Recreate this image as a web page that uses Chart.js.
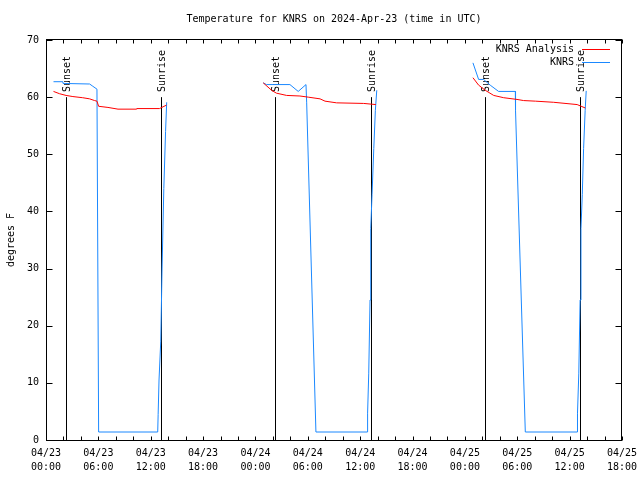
<!DOCTYPE html>
<html>
<head>
<meta charset="utf-8">
<script src="https://cdn.jsdelivr.net/npm/chart.js@4.4.1/dist/chart.umd.min.js"></script>
<style>
  html, body { margin: 0; padding: 0; background: #fff; }
  #wrap { width: 640px; height: 480px; }
</style>
</head>
<body>
<div id="wrap"><canvas id="myChart"></canvas></div>
<script>
const FONT = '"DejaVu Sans Mono", "Liberation Mono", monospace'

// hours since 04/23 00:00 UTC, null breaks the line between days
const obsHours = [
    0.86, 1.93, 1.95, 5.0, 5.37, 5.84, 6.03, 12.8, 12.85, 12.95, 13.15, 13.3, 13.5, 13.7, 13.83, null,
    24.89, 25.27, 27.95, 28.9, 29.79, 29.87, 30.93, 36.82, 36.85, 36.98, 37.13, 37.21, 37.36, 37.56, 37.74, 37.9, null,
    48.92, 49.57, 50.14, 50.9, 51.86, 53.78, 53.8, 54.92, 60.86, 60.9, 61.05, 61.2, 61.3, 61.45, 61.6, 61.78, 61.9
]
const obsTemps = [
    62.7, 62.7, 62.4, 62.3, 61.9, 61.4, 1.4, 1.4, 4.5, 10.5, 17.3, 30.1, 44, 54, 59.1, null,
    62.5, 62.2, 62.2, 61.0, 62.2, 59.0, 1.4, 1.4, 4.7, 11.7, 24.5, 37, 43, 51, 57.7, 61.2, null,
    66.0, 63.1, 63.1, 62.1, 61.0, 61.0, 57.7, 1.4, 1.4, 4.7, 11.7, 24.5, 37, 43, 51, 57.7, 61.1
]
const anaHours = [
    0.86, 1.55, 2.3, 3.08, 4.2, 5.0, 5.57, 5.84, 6.03, 7.1, 8.25, 10.35, 10.4, 13.0, 13.8, null,
    24.89, 25.85, 26.4, 27.57, 29.1, 30.05, 31.4, 31.97, 33.3, 36.4, 37.8, null,
    48.92, 49.57, 50.33, 51.3, 52.44, 53.97, 54.73, 56.07, 58.17, 60.86, 61.8
]
const anaTemps = [
    61.0, 60.6, 60.3, 60.1, 59.9, 59.7, 59.4, 59.3, 58.4, 58.2, 57.9, 57.9, 58.0, 58.0, 58.6, null,
    62.5, 61.2, 60.7, 60.3, 60.2, 60.0, 59.7, 59.3, 59.0, 58.9, 58.7, null,
    63.4, 62.1, 61.2, 60.3, 59.9, 59.6, 59.4, 59.3, 59.1, 58.7, 58.1
]

const sunHours = [2.27, 13.22, 26.28, 37.19, 50.33, 61.17]
const sunNames = ['Sunset', 'Sunrise', 'Sunset', 'Sunrise', 'Sunset', 'Sunrise']
const sunLineTop = 60
const sunLabelAt = 60.9

const xTickHours = [0, 6, 12, 18, 24, 30, 36, 42, 48, 54, 60, 66]
const xTickLabels = [
    ['04/23', '00:00'], ['04/23', '06:00'], ['04/23', '12:00'], ['04/23', '18:00'],
    ['04/24', '00:00'], ['04/24', '06:00'], ['04/24', '12:00'], ['04/24', '18:00'],
    ['04/25', '00:00'], ['04/25', '06:00'], ['04/25', '12:00'], ['04/25', '18:00']
]

const seriesNames = ['KNRS Analysis', 'KNRS']
const seriesColors = ['#ff0000', '#1a88ff']

const toPoints = (hours, temps) => hours.map((h, i) => ({ x: h === null ? NaN : h, y: temps[i] }))

// gnuplot look: boxed frame, inward mirrored ticks, sun markers, legend on the right
const gnuplotLook = {
    id: 'gnuplotLook',
    beforeDatasetsDraw(chart) {
        const { ctx, scales: { x, y } } = chart
        ctx.save()
        ctx.strokeStyle = '#000'
        ctx.fillStyle = '#000'
        ctx.lineWidth = 1
        ctx.font = '10px ' + FONT
        sunHours.forEach((h, i) => {
            const px = Math.round(x.getPixelForValue(h)) + 0.5
            ctx.beginPath()
            ctx.moveTo(px, y.getPixelForValue(0))
            ctx.lineTo(px, y.getPixelForValue(sunLineTop))
            ctx.stroke()
            ctx.save()
            ctx.translate(px + 1, y.getPixelForValue(sunLabelAt))
            ctx.rotate(-Math.PI / 2)
            ctx.textAlign = 'left'
            ctx.textBaseline = 'middle'
            ctx.fillText(sunNames[i], 0, 0)
            ctx.restore()
        })
        ctx.restore()
    },
    afterDraw(chart) {
        const { ctx, chartArea: a, scales: { x, y } } = chart
        const l = a.left + 0.5, r = a.right - 0.5, t = a.top - 0.5, b = a.bottom + 0.5
        ctx.save()
        ctx.strokeStyle = '#000'
        ctx.lineWidth = 1
        ctx.strokeRect(l, t, r - l, b - t)
        ctx.beginPath()
        x.ticks.forEach(tk => {
            const px = Math.round(x.getPixelForValue(tk.value)) + 0.5
            ctx.moveTo(px, b); ctx.lineTo(px, b - 4)
            ctx.moveTo(px, t); ctx.lineTo(px, t + 4)
        })
        y.ticks.forEach(tk => {
            const py = Math.round(y.getPixelForValue(tk.value)) + 0.5
            ctx.moveTo(l, py); ctx.lineTo(l + 6, py)
            ctx.moveTo(r, py); ctx.lineTo(r - 6, py)
        })
        ctx.stroke()

        // legend
        ctx.font = '10px ' + FONT
        ctx.fillStyle = '#000'
        ctx.textAlign = 'right'
        ctx.textBaseline = 'middle'
        seriesNames.forEach((name, i) => {
            const ly = a.top + 9.5 + i * 13
            ctx.fillText(name, a.right - 48, ly)
            ctx.strokeStyle = seriesColors[i]
            ctx.beginPath()
            ctx.moveTo(a.right - 40, ly)
            ctx.lineTo(a.right - 12, ly)
            ctx.stroke()
        })
        ctx.restore()
    }
}

new Chart(document.querySelector('#myChart'), {
    type: 'line',
    data: {
        datasets: [
            { label: seriesNames[0], data: toPoints(anaHours, anaTemps), borderColor: seriesColors[0] },
            { label: seriesNames[1], data: toPoints(obsHours, obsTemps), borderColor: seriesColors[1] }
        ]
    },
    options: {
        responsive: true,
        maintainAspectRatio: false,
        animation: false,
        spanGaps: false,
        elements: {
            line: { borderWidth: 1, tension: 0, fill: false },
            point: { radius: 0, hoverRadius: 0 }
        },
        layout: { padding: { left: 0, right: 18, top: 0, bottom: 0 } },
        plugins: {
            legend: { display: false },
            tooltip: { enabled: false },
            title: {
                display: true,
                fullSize: false,
                text: 'Temperature for KNRS on 2024-Apr-23 (time in UTC)',
                color: '#000',
                font: { family: FONT, size: 10, weight: 'normal', lineHeight: 1.2 },
                padding: { top: 13, bottom: 15 }
            }
        },
        scales: {
            x: {
                type: 'linear',
                min: 0,
                max: 66,
                afterFit(s) {
                    s.height = 40
                    s.paddingLeft = 0
                    s.paddingRight = 0
                },
                grid: { display: false, drawTicks: false },
                border: { display: false },
                ticks: {
                    stepSize: 2,
                    autoSkip: false,
                    maxRotation: 0,
                    padding: 7,
                    color: '#000',
                    font: { family: FONT, size: 10, lineHeight: 1.35 },
                    callback(v) {
                        const i = xTickHours.indexOf(v)
                        return i >= 0 ? xTickLabels[i] : ''
                    }
                }
            },
            y: {
                min: 0,
                max: 70,
                afterFit(s) {
                    s.width = 46
                    s.paddingTop = 0
                    s.paddingBottom = 0
                },
                grid: { display: false, drawTicks: false },
                border: { display: false },
                ticks: {
                    stepSize: 10,
                    padding: 7,
                    color: '#000',
                    font: { family: FONT, size: 10 }
                },
                title: {
                    display: true,
                    text: 'degrees F',
                    color: '#000',
                    font: { family: FONT, size: 10, lineHeight: 1.2 },
                    padding: { top: 5, bottom: 0 }
                }
            }
        }
    },
    plugins: [gnuplotLook]
})
</script>
</body>
</html>
